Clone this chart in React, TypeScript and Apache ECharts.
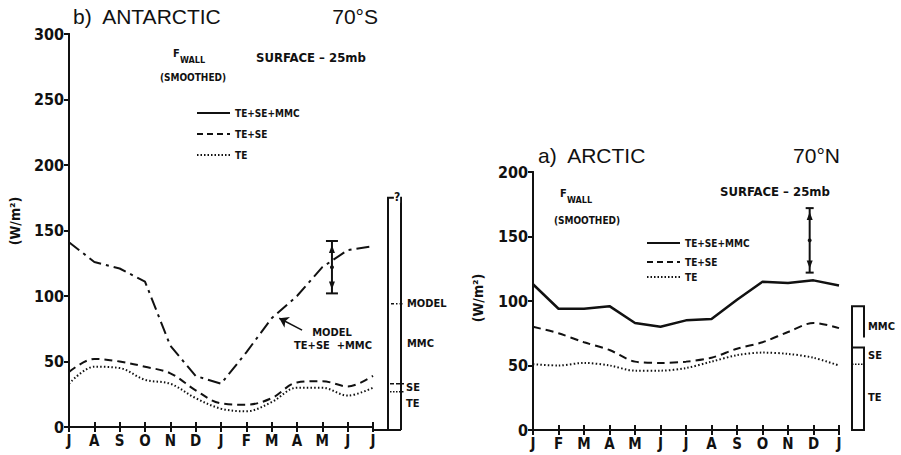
import React, { useEffect, useRef } from "react";
import * as echarts from "echarts";

// Month ticks (southern panel starts in July, northern in January)
const southMonths = ["J", "A", "S", "O", "N", "D", "J", "F", "M", "A", "M", "J", "J"];
const northMonths = ["J", "F", "M", "A", "M", "J", "J", "A", "S", "O", "N", "D", "J"];

// b) Antarctic, 70°S  (W/m²)
const southModel = [141, 126, 121, 111, 62, 39, 33, 57, 83, 100, 122, 135, 138];
const southTeSe = [42, 52, 50, 46, 41, 28, 18, 17, 22, 34, 35, 31, 39];
const southTe = [33, 46, 45, 36, 33, 22, 14, 12, 19, 30, 30, 24, 30];

// a) Arctic, 70°N  (W/m²)
const northTotal = [113, 94, 94, 96, 83, 80, 85, 86, 101, 115, 114, 116, 112];
const northTeSe = [80, 75, 68, 62, 53, 52, 53, 56, 63, 68, 76, 83, 79];
const northTe = [51, 50, 52, 50, 46, 46, 48, 53, 58, 60, 59, 56, 50];

// Uncertainty bars: [month position, low, high]
const southErr = [10.38, 102, 142];
const northErr = [10.85, 122, 172];

// Annual-mean side bars: [total, TE+SE, TE] (south also has the model value)
const southBar = { total: 175, model: 94, teSe: 33, te: 27 };
const northBar = { total: 96, teSe: 64, te: 51 };

const INK = "#111";
const NARROW = "'Liberation Sans Narrow', 'DejaVu Sans Condensed', 'Liberation Sans', Arial, sans-serif";
const WIDE = "'Liberation Sans', Arial, sans-serif";

const DASH_DOT = [13, 5, 3, 5];
const DASHED = [8, 5];
const DOTTED = [1.5, 2.2];

function monthAxes(gridIndex: number, names: string[]) {
  const bottom = {
    type: "value",
    gridIndex,
    min: 0,
    max: 12,
    interval: 1,
    position: "bottom",
    axisLine: { lineStyle: { color: INK, width: 2 } },
    axisTick: { inside: true, length: 5, lineStyle: { color: INK, width: 2 } },
    axisLabel: {
      margin: 6,
      color: INK,
      fontFamily: NARROW,
      fontWeight: "bold",
      fontSize: 15,
      formatter: (v: number) => names[Math.round(v)] ?? "",
    },
    splitLine: { show: false },
  };
  const top = {
    type: "value",
    gridIndex,
    min: 0,
    max: 12,
    interval: 1,
    position: "top",
    axisLine: { lineStyle: { color: INK, width: 2 } },
    axisTick: { inside: true, length: 5, lineStyle: { color: INK, width: 2 } },
    axisLabel: { show: false },
    splitLine: { show: false },
  };
  return [bottom, top];
}

function valueAxes(gridIndex: number, max: number) {
  const left = {
    type: "value",
    gridIndex,
    min: 0,
    max,
    interval: 50,
    position: "left",
    axisLine: { show: true, lineStyle: { color: INK, width: 2 } },
    axisTick: { show: true, length: 4, lineStyle: { color: INK, width: 2 } },
    axisLabel: {
      margin: 5,
      color: INK,
      fontFamily: NARROW,
      fontWeight: "bold",
      fontSize: 16,
    },
    splitLine: { show: false },
  };
  const right = {
    type: "value",
    gridIndex,
    min: 0,
    max,
    interval: 50,
    position: "right",
    axisLine: { show: true, lineStyle: { color: INK, width: 2 } },
    axisTick: { show: true, inside: true, length: 5, lineStyle: { color: INK, width: 2 } },
    axisLabel: { show: false },
    splitLine: { show: false },
  };
  return [left, right];
}

function hiddenAxis(gridIndex: number, min: number, max: number) {
  return {
    type: "value",
    gridIndex,
    min,
    max,
    show: false,
    splitLine: { show: false },
  };
}

function seriesLine(name: string, data: number[], xi: number, yi: number, type: any, width: number, smooth: number | boolean) {
  return {
    name,
    type: "line",
    xAxisIndex: xi,
    yAxisIndex: yi,
    data: data.map((v, i) => [i, v]),
    showSymbol: false,
    symbol: "none",
    smooth,
    lineStyle: { color: INK, width, type },
    silent: true,
  };
}

function errorBarSeries(err: number[], xi: number, yi: number, capHalf: number) {
  return {
    type: "custom",
    xAxisIndex: xi,
    yAxisIndex: yi,
    silent: true,
    data: [err],
    renderItem: (_p: any, api: any) => {
      const x = api.value(0);
      const lo = api.value(1);
      const hi = api.value(2);
      const top = api.coord([x, hi]);
      const bot = api.coord([x, lo]);
      const mid = api.coord([x, (hi + lo) / 2]);
      const cx = top[0];
      const st = { stroke: INK, lineWidth: 2 };
      const head = (tipY: number, dir: number) => ({
        type: "polygon",
        shape: { points: [[cx, tipY], [cx - 3, tipY + dir * 8], [cx + 3, tipY + dir * 8]] },
        style: { fill: INK },
      });
      return {
        type: "group",
        children: [
          { type: "line", shape: { x1: cx, y1: top[1], x2: cx, y2: bot[1] }, style: st },
          { type: "line", shape: { x1: cx - capHalf, y1: top[1], x2: cx + capHalf, y2: top[1] }, style: st },
          { type: "line", shape: { x1: cx - capHalf, y1: bot[1], x2: cx + capHalf, y2: bot[1] }, style: st },
          head(top[1] + 4, 1),
          head(bot[1] - 4, -1),
          { type: "circle", shape: { cx, cy: mid[1], r: 2 }, style: { fill: INK } },
        ],
      };
    },
  };
}

const labelStyle = (text: string, x: number, y: number, size = 10, align = "left") => ({
  type: "text",
  x,
  y,
  silent: true,
  style: {
    text,
    fill: INK,
    font: `bold ${size}px ${NARROW}`,
    textAlign: align,
    textVerticalAlign: "middle",
  },
});

function southBarSeries() {
  return {
    type: "custom",
    xAxisIndex: 4,
    yAxisIndex: 4,
    silent: true,
    data: [[0, southBar.total, southBar.model, southBar.teSe, southBar.te]],
    renderItem: (_p: any, api: any) => {
      const total = api.value(1);
      const model = api.value(2);
      const teSe = api.value(3);
      const te = api.value(4);
      const [xl, y0] = api.coord([0, 0]);
      const xr = api.coord([1, 0])[0];
      const yTop = api.coord([0, total])[1];
      const yModel = api.coord([0, model])[1];
      const ySe = api.coord([0, teSe])[1];
      const yTe = api.coord([0, te])[1];
      const yMmc = api.coord([0, (model + teSe) / 2])[1];
      const st = { stroke: INK, lineWidth: 2, fill: null };
      return {
        type: "group",
        children: [
          { type: "polyline", shape: { points: [[xl, y0 + 3], [xl, yTop], [xr, yTop], [xr, y0 + 3]] }, style: st },
          { type: "line", shape: { x1: xl - 15, y1: y0 + 3, x2: xr, y2: y0 + 3 }, style: { stroke: INK, lineWidth: 2 } },
          { type: "text", x: xr - 4, y: yTop - 1, style: { text: "?", fill: INK, font: `bold 12px ${NARROW}`, textAlign: "center", textVerticalAlign: "middle", backgroundColor: "#fff" } },
          { type: "line", shape: { x1: xl + 3, y1: yModel, x2: xr + 3, y2: yModel }, style: { stroke: INK, lineWidth: 1.5, lineDash: [3, 2, 1.5, 2] } },
          { type: "line", shape: { x1: xl + 2, y1: ySe, x2: xr + 3, y2: ySe }, style: { stroke: INK, lineWidth: 1.5, lineDash: [4, 2] } },
          { type: "line", shape: { x1: xl + 2, y1: yTe, x2: xr + 3, y2: yTe }, style: { stroke: INK, lineWidth: 1.5, lineDash: [1.5, 1.5] } },
          labelStyle("MODEL", xr + 6, yModel, 11),
          labelStyle("MMC", xr + 6, yMmc, 11),
          labelStyle("SE", xr + 5, ySe + 4, 11),
          labelStyle("TE", xr + 5, yTe + 12, 11),
        ],
      };
    },
  };
}

function northBarSeries() {
  return {
    type: "custom",
    xAxisIndex: 5,
    yAxisIndex: 5,
    silent: true,
    data: [[0, northBar.total, northBar.teSe, northBar.te]],
    renderItem: (_p: any, api: any) => {
      const total = api.value(1);
      const teSe = api.value(2);
      const te = api.value(3);
      const [xl, y0] = api.coord([0, 0]);
      const xr = api.coord([1, 0])[0];
      const yTop = api.coord([0, total])[1];
      const ySe = api.coord([0, teSe])[1];
      const yTe = api.coord([0, te])[1];
      const yMmc = api.coord([0, (total + teSe) / 2])[1];
      const ySeLab = api.coord([0, (teSe + te) / 2])[1];
      const yTeLab = api.coord([0, te / 2])[1];
      const st = { stroke: INK, lineWidth: 2, fill: null };
      return {
        type: "group",
        children: [
          { type: "polyline", shape: { points: [[xr, ySe - 10], [xr, yTop], [xl, yTop], [xl, y0], [xr, y0], [xr, ySe], [xl, ySe]] }, style: st },
          { type: "line", shape: { x1: xl, y1: yTe, x2: xr, y2: yTe }, style: { stroke: INK, lineWidth: 1.5, lineDash: [1.5, 1.5] } },
          labelStyle("MMC", xr + 4, yMmc, 11),
          labelStyle("SE", xr + 4, ySeLab, 11),
          labelStyle("TE", xr + 4, yTeLab, 11),
        ],
      };
    },
  };
}

function legend(x0: number, ys: number[]) {
  const items: [string, number[] | null][] = [
    ["TE+SE+MMC", null],
    ["TE+SE", [6, 4]],
    ["TE", [1.5, 2]],
  ];
  const out: any[] = [];
  items.forEach(([text, dash], i) => {
    out.push({
      type: "line",
      silent: true,
      shape: { x1: x0, y1: ys[i], x2: x0 + 33, y2: ys[i] },
      style: { stroke: INK, lineWidth: 2, lineDash: dash ?? undefined },
    });
    out.push(labelStyle(text, x0 + 38, ys[i], 10));
  });
  return out;
}

function panelTexts(o: {
  title: string; titleX: number; lat: string; latX: number; titleY: number;
  fx: number; fy: number; smoothCx: number; smoothY: number;
  surfX: number; surfY: number; yLabX: number; yLabY: number;
}) {
  return [
    { type: "text", x: o.titleX, y: o.titleY, silent: true, style: { text: o.title, fill: INK, font: `21px ${WIDE}`, textVerticalAlign: "middle" } },
    { type: "text", x: o.latX, y: o.titleY, silent: true, style: { text: o.lat, fill: INK, font: `21px ${WIDE}`, textAlign: "right", textVerticalAlign: "middle" } },
    labelStyle("F", o.fx, o.fy, 11),
    labelStyle("WALL", o.fx + 7, o.fy + 7, 9),
    labelStyle("(SMOOTHED)", o.smoothCx, o.smoothY, 10, "center"),
    labelStyle("SURFACE – 25mb", o.surfX, o.surfY, 13),
    {
      type: "text",
      x: o.yLabX,
      y: o.yLabY,
      rotation: Math.PI / 2,
      silent: true,
      style: { text: "(W/m²)", fill: INK, font: `bold 14px ${NARROW}`, textAlign: "center", textVerticalAlign: "middle" },
    },
  ];
}

export default function App() {
  const ref = useRef<HTMLDivElement>(null);

  useEffect(() => {
    document.body.style.margin = "0";
    if (!ref.current) return;
    const chart = echarts.init(ref.current, null, { renderer: "svg" });

    const [sxb, sxt] = monthAxes(0, southMonths);
    const [nxb, nxt] = monthAxes(1, northMonths);
    const [syl, syr] = valueAxes(0, 300);
    const [nyl, nyr] = valueAxes(1, 200);

    const modelSeries: any = seriesLine("MODEL TE+SE+MMC", southModel, 0, 0, DASH_DOT, 2, false);
    modelSeries.markLine = {
      silent: true,
      symbol: ["none", "arrow"],
      symbolSize: 9,
      label: { show: false },
      lineStyle: { color: INK, width: 1.5, type: "solid" },
      data: [[{ coord: [9.2, 74] }, { coord: [8.3, 83] }]],
    };

    chart.setOption({
      animation: false,
      backgroundColor: "#fff",
      grid: [
        { left: 69, top: 34, width: 304, height: 393 },
        { left: 533, top: 172, width: 306, height: 258 },
        { left: 388, top: 34, width: 13, height: 393 },
        { left: 852, top: 172, width: 12, height: 258 },
      ],
      xAxis: [sxb, sxt, nxb, nxt, hiddenAxis(2, 0, 1), hiddenAxis(3, 0, 1)],
      yAxis: [syl, syr, nyl, nyr, hiddenAxis(2, 0, 300), hiddenAxis(3, 0, 200)],
      series: [
        modelSeries,
        seriesLine("TE+SE", southTeSe, 0, 0, DASHED, 2, 0.35),
        seriesLine("TE", southTe, 0, 0, DOTTED, 2, 0.35),
        seriesLine("TE+SE+MMC", northTotal, 2, 2, "solid", 2.5, false),
        seriesLine("TE+SE", northTeSe, 2, 2, DASHED, 2, 0.3),
        seriesLine("TE", northTe, 2, 2, DOTTED, 2, 0.3),
        errorBarSeries(southErr, 0, 0, 6),
        errorBarSeries(northErr, 2, 2, 4),
        southBarSeries(),
        northBarSeries(),
      ],
      graphic: [
        ...panelTexts({
          title: "b)  ANTARCTIC", titleX: 73, lat: "70°S", latX: 378, titleY: 16,
          fx: 173, fy: 53, smoothCx: 193, smoothY: 77, surfX: 256, surfY: 57,
          yLabX: 15, yLabY: 221,
        }),
        ...legend(197, [113, 134, 155]),
        labelStyle("MODEL", 332, 332, 11, "center"),
        labelStyle("TE+SE  +MMC", 333, 345, 11, "center"),
        ...panelTexts({
          title: "a)  ARCTIC", titleX: 538, lat: "70°N", latX: 840, titleY: 155,
          fx: 560, fy: 193, smoothCx: 587, smoothY: 220, surfX: 720, surfY: 191,
          yLabX: 478, yLabY: 298,
        }),
        ...legend(647, [243, 262, 277]),
      ],
    });

    return () => chart.dispose();
  }, []);

  return <div ref={ref} style={{ width: 901, height: 455 }} />;
}
